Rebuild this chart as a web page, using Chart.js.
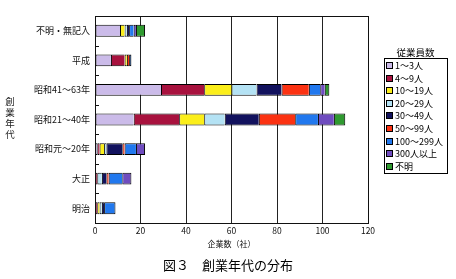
<!DOCTYPE html>
<html>
<head>
<meta charset="utf-8">
<script src="https://cdn.jsdelivr.net/npm/chart.js@4/dist/chart.umd.min.js"></script>
<style>
  html, body { margin: 0; padding: 0; background: #ffffff; }
  #wrap { width: 456px; height: 279px; position: relative; }
</style>
</head>
<body>
<div id="wrap"><canvas id="c" width="456" height="279"></canvas></div>
<script>
// ---- data ----
const categories = ['不明・無記入', '平成', '昭和41～63年', '昭和21～40年', '昭和元～20年', '大正', '明治'];
const seriesNames = ['1～3人', '4～9人', '10～19人', '20～29人', '30～49人', '50～99人', '100～299人', '300人以上', '不明'];
const s1to3     = [11, 7, 29, 17, 1, 0, 0];
const s4to9     = [0, 6, 19, 20, 1, 1, 1];
const s10to19   = [2, 1, 12, 11, 2, 0, 1];
const s20to29   = [1, 0, 11, 9, 1, 2, 1];
const s30to49   = [1, 0, 11, 15, 7, 2, 1];
const s50to99   = [0, 1, 12, 16, 1, 1, 0];
const s100to299 = [2, 1, 5, 10, 5, 6, 5];
const s300plus  = [1, 0, 2, 7, 4, 4, 0];
const sUnknown  = [4, 0, 2, 5, 0, 0, 0];
const xTicks = [0, 20, 40, 60, 80, 100, 120];
const legendTitle = '従業員数';
const yTitle = '創業年代';
const xTitle = '企業数（社）';
const caption = '図３　創業年代の分布';

const seriesValues = [s1to3, s4to9, s10to19, s20to29, s30to49, s50to99, s100to299, s300plus, sUnknown];
const colors = ['#cbbbe9', '#a8123e', '#fbee1a', '#b4e2f4', '#12125e', '#fb3212', '#2178ee', '#6f4cbf', '#2f9a30'];

const FONT = "'Noto Sans CJK JP', 'Noto Sans', sans-serif";

function lastNonZero(rowIdx) {
  let last = -1;
  seriesValues.forEach((arr, k) => { if (arr[rowIdx] > 0) last = k; });
  return last;
}

const datasets = seriesValues.map((vals, k) => ({
  label: seriesNames[k],
  data: vals,
  backgroundColor: colors[k],
  borderColor: '#000',
  borderWidth: (ctx) => ({ top: 1, bottom: 1, left: 1, right: lastNonZero(ctx.dataIndex) === k ? 1 : 0 }),
  borderSkipped: false,
  barPercentage: 0.4,
  categoryPercentage: 1.0
}));

const decor = {
  id: 'decor',
  afterDatasetsDraw(chart) {
    const { ctx, chartArea: a, scales } = chart;
    ctx.save();
    ctx.strokeStyle = '#111';
    ctx.lineWidth = 1;
    ctx.beginPath();
    ctx.rect(Math.round(a.left) + 0.5, Math.round(a.top) + 0.5, Math.round(a.right - a.left) - 1 + 1, Math.round(a.bottom - a.top));
    ctx.stroke();
    // inner tick marks at category boundaries
    const ys = scales.y;
    ctx.beginPath();
    for (let i = 1; i < categories.length; i++) {
      const y = Math.round((ys.getPixelForValue(i - 1) + ys.getPixelForValue(i)) / 2) + 0.5;
      ctx.moveTo(a.left, y);
      ctx.lineTo(a.left + 4, y);
    }
    ctx.stroke();
    ctx.restore();
  },
  afterDraw(chart) {
    const { ctx } = chart;
    ctx.save();
    // legend
    const bx = 384, by = 58, bw = 63, bh = 115;
    ctx.fillStyle = '#000';
    ctx.font = '9.5px ' + FONT;
    ctx.textAlign = 'center';
    ctx.textBaseline = 'middle';
    ctx.fillText(legendTitle, bx + bw / 2, 52);
    ctx.strokeStyle = '#000';
    ctx.lineWidth = 1;
    ctx.strokeRect(bx + 0.5, by + 0.5, bw, bh);
    ctx.textAlign = 'left';
    ctx.font = '9px ' + FONT;
    chart.data.datasets.forEach((ds, k) => {
      const y = 65 + k * 12.6;
      ctx.fillStyle = ds.backgroundColor;
      ctx.fillRect(387, Math.round(y) - 2, 5, 5);
      ctx.strokeStyle = '#000';
      ctx.strokeRect(386.5, Math.round(y) - 2.5, 6, 6);
      ctx.fillStyle = '#000';
      ctx.fillText(ds.label, 395, y + 0.5);
    });
    // vertical y-axis title
    ctx.font = '9.5px ' + FONT;
    ctx.textAlign = 'center';
    ctx.fillStyle = '#222';
    Array.from(yTitle).forEach((ch, i) => ctx.fillText(ch, 10, 101 + i * 11));
    // caption
    ctx.font = '13px ' + FONT;
    ctx.fillStyle = '#000';
    ctx.fillText(caption, 228, 265);
    ctx.restore();
  }
};

new Chart(document.getElementById('c'), {
  type: 'bar',
  data: { labels: categories, datasets },
  options: {
    indexAxis: 'y',
    responsive: false,
    animation: false,
    devicePixelRatio: 1,
    layout: { padding: { top: 16, right: 88, bottom: 30, left: 0 } },
    plugins: { legend: { display: false }, tooltip: { enabled: false }, title: { display: false } },
    scales: {
      x: {
        stacked: true,
        min: 0, max: 120,
        afterBuildTicks: (s) => { s.ticks = xTicks.map(v => ({ value: v })); },
        afterFit: (s) => { s.height = 26; },
        grid: { color: '#222', lineWidth: 1, drawTicks: false },
        border: { display: true, color: '#111' },
        ticks: { color: '#111', font: { family: FONT, size: 8.5 }, padding: 3 },
        title: { display: true, text: xTitle, color: '#111', font: { family: FONT, size: 8 }, padding: { top: 0, bottom: 0 } }
      },
      y: {
        stacked: true,
        afterFit: (s) => { s.width = 95; },
        grid: { display: false, drawTicks: false },
        border: { display: true, color: '#111' },
        ticks: { color: '#111', font: { family: FONT, size: 9 }, padding: 5 }
      }
    }
  },
  plugins: [decor]
});
</script>
</body>
</html>
